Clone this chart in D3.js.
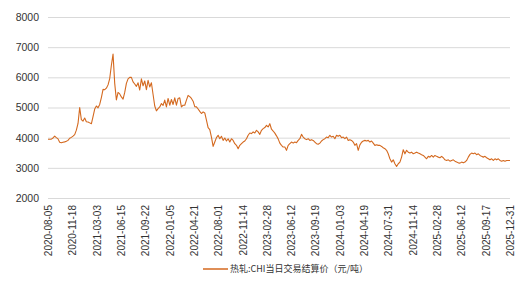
<!DOCTYPE html>
<html><head><meta charset="utf-8">
<script src="https://cdn.jsdelivr.net/npm/d3@7"></script>
<style>
html,body{margin:0;padding:0;background:#fff;}
svg{display:block;font-family:"Liberation Sans",Arial,sans-serif;}
</style></head>
<body><svg id="chart" width="528" height="285"></svg>
<script>
const seriesName = "热轧:CHI当日交易结算价（元/吨）";
const values = [
3950,3945,3950,3990,4050,4000,3960,3850,3830,3850,3860,3880,3910,3980,4010,4050,4100,4250,4470,5000,
4600,4550,4650,4530,4520,4490,4460,4700,4950,5050,4990,5100,5330,5600,5590,5640,5750,5960,6400,6770,
5800,5250,5500,5450,5350,5280,5500,5800,5950,6000,6000,5850,5780,5700,5820,5580,5950,5720,5880,5590,
5900,5680,5820,5430,5050,4890,4960,5020,5130,5070,5245,5020,5300,5075,5265,5100,5320,5075,5300,5320,
5020,5075,5075,5245,5400,5360,5300,5210,5030,
5020,4950,4870,4800,4855,4820,4580,4330,4270,4020,3710,3855,4000,4080,3965,4045,3910,3990,3890,3965,
3855,3965,3910,3800,3745,3635,3745,3800,3855,3890,3965,4080,4155,4135,4190,4155,4245,4190,4110,4245,
4300,4335,4410,4355,4465,4280,4220,4150,4060,3960,3820,3745,3690,3690,3580,3745,3800,3855,3820,3855,
3835,3910,3965,4110,4020,3965,3935,3965,3910,3935,3910,3855,3800,3780,3820,3890,3935,3965,4020,4000,
4080,4020,4045,3965,4080,4045,4080,4000,4020,3965,4020,3910,3935,
3910,3855,3745,3800,3580,3760,3850,3890,3910,3890,3910,3855,3890,3820,3745,3765,3745,3745,3710,3665,
3635,3580,3465,3300,3190,3265,3135,3045,3135,3190,3355,3600,3465,3580,3520,3490,3520,3465,3490,3520,
3490,3465,3435,3410,3355,3300,3380,3355,3410,3355,3410,3380,3355,3335,3380,3335,3265,3245,3265,3220,
3245,3265,3220,3190,3165,3155,3190,3165,3190,3245,3355,3445,3490,3465,3490,3435,3465,3410,3380,3355,
3380,3335,3300,3265,3300,3245,3300,3265,3300,3245,3220,3245,3220,3245,3245,3245
];
const xTickLabels = ["2020-08-05","2020-11-18","2021-03-03","2021-06-15","2021-09-22","2022-01-05","2022-04-21",
"2022-08-01","2022-11-14","2023-02-28","2023-06-12","2023-09-19","2024-01-03","2024-04-19","2024-07-31",
"2024-11-14","2025-02-28","2025-06-12","2025-09-17","2025-12-31"];
const yTicks = [2000,3000,4000,5000,6000,7000,8000];

(function () {
const svg = d3.select("#chart");
const mLeft = 48, mRight = 510, mTop = 17, mBottom = 198;
const lineColor = "#d4691f";

const x = d3.scaleLinear().domain([0, values.length - 1]).range([mLeft, mRight]);
const y = d3.scaleLinear().domain([2000, 8000]).range([mBottom, mTop]);

// gridlines + y labels
const yAxis = d3.axisLeft(y).tickValues(yTicks).tickSize(-(mRight - mLeft)).tickPadding(9).tickFormat(d3.format("d"));
const gy = svg.append("g").attr("transform", `translate(${mLeft},0)`).call(yAxis);
gy.select(".domain").remove();
gy.selectAll(".tick line").attr("stroke", "#d9d9d9").attr("stroke-width", 1);
gy.selectAll(".tick text").attr("fill", "#333").style("font-size", "10.5px");

// x axis: category labels evenly spread along the series
const tickPos = xTickLabels.map((d, i) => i * (values.length - 1) / (xTickLabels.length - 1));
const xAxis = d3.axisBottom(x).tickValues(tickPos).tickSize(0).tickFormat((d, i) => xTickLabels[i]);
const gx = svg.append("g").attr("transform", `translate(0,${mBottom + 7})`).call(xAxis);
gx.select(".domain").remove();
gx.selectAll(".tick text")
  .attr("fill", "#333").style("font-size", "10px")
  .attr("text-anchor", "end").attr("transform", "rotate(-90)")
  .attr("x", 0).attr("y", 0).attr("dy", "0.35em");

// line
const line = d3.line().x((d, i) => x(i)).y(d => y(d));
svg.append("path").datum(values).attr("d", line)
  .attr("fill", "none").attr("stroke", lineColor).attr("stroke-width", 1.1).attr("stroke-linejoin", "round");

// legend
const lg = svg.append("g").attr("transform", "translate(203,269)");
lg.append("line").attr("x1", 0).attr("x2", 25).attr("y1", 0).attr("y2", 0).attr("stroke", lineColor).attr("stroke-width", 1.5);
lg.append("text").attr("x", 27).attr("y", 0).attr("dy", "0.35em").attr("fill", "#333")
  .style("font-size", "9px").style("font-family", "'Noto Sans CJK SC',sans-serif").text(seriesName);
})();
</script></body></html>
